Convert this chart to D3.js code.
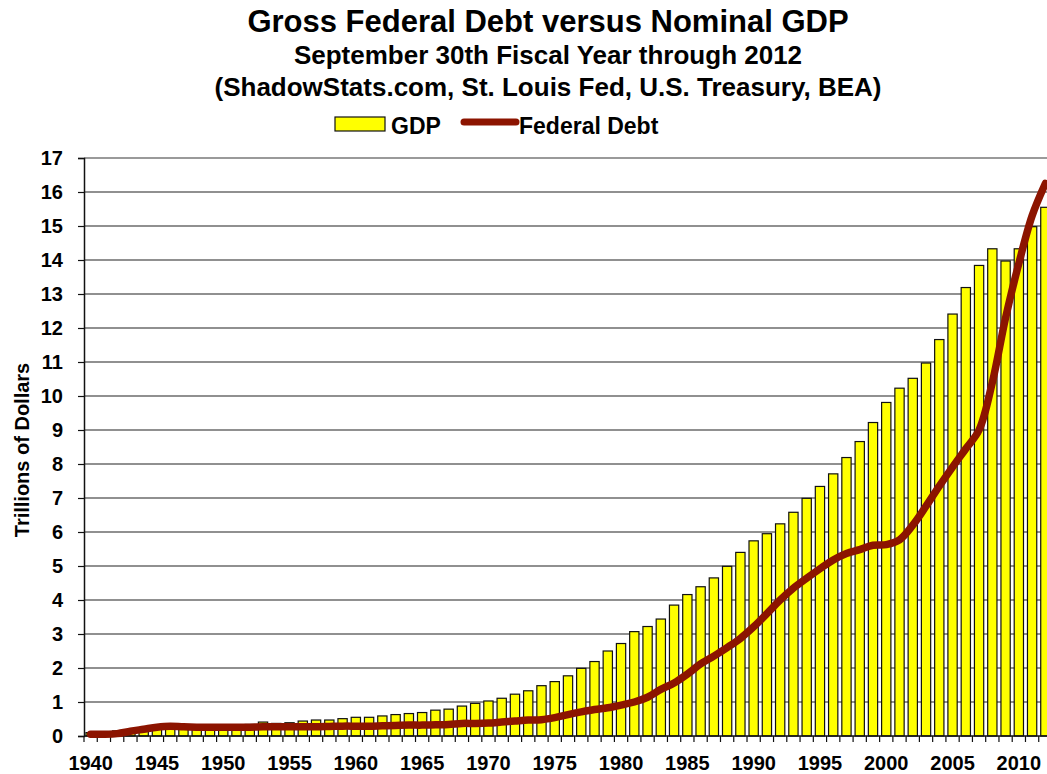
<!DOCTYPE html>
<html>
<head>
<meta charset="utf-8">
<script src="https://cdn.jsdelivr.net/npm/d3@7"></script>
<style>
  html, body { margin: 0; padding: 0; background: #fff; }
  svg { display: block; font-family: "Liberation Sans", Arial, Helvetica, sans-serif; font-weight: bold; }
</style>
</head>
<body>
<svg id="chart" width="1047" height="774"></svg>
<script>
const years = d3.range(1940, 2013);
const gdp = [
  0.10, 0.12, 0.15, 0.18, 0.20, 0.21, 0.21, 0.23, 0.25, 0.26,
  0.27, 0.31, 0.34, 0.41, 0.37, 0.39, 0.44, 0.47, 0.47, 0.51,
  0.55, 0.55, 0.59, 0.63, 0.66, 0.69, 0.76, 0.79, 0.88, 0.96,
  1.03, 1.11, 1.23, 1.33, 1.48, 1.60, 1.77, 1.99, 2.19, 2.50,
  2.72, 3.07, 3.22, 3.44, 3.85, 4.16, 4.39, 4.65, 4.99, 5.40,
  5.74, 5.95, 6.24, 6.58, 6.99, 7.34, 7.71, 8.19, 8.66, 9.22,
  9.81, 10.23, 10.52, 10.97, 11.66, 12.41, 13.19, 13.84, 14.33, 13.97,
  14.33, 14.98, 15.55
];
const debt = [
  0.05, 0.05, 0.07, 0.14, 0.20, 0.26, 0.29, 0.27, 0.26, 0.26,
  0.26, 0.26, 0.26, 0.27, 0.27, 0.27, 0.27, 0.27, 0.28, 0.29,
  0.29, 0.29, 0.30, 0.31, 0.32, 0.32, 0.33, 0.34, 0.37, 0.37,
  0.38, 0.41, 0.44, 0.47, 0.48, 0.54, 0.63, 0.71, 0.78, 0.83,
  0.91, 1.00, 1.14, 1.37, 1.56, 1.82, 2.12, 2.35, 2.60, 2.87,
  3.21, 3.60, 4.00, 4.35, 4.64, 4.92, 5.18, 5.37, 5.48, 5.61,
  5.63, 5.77, 6.20, 6.76, 7.35, 7.91, 8.45, 9.00, 10.40, 12.30,
  13.90, 15.30, 16.25
];
const yTicks = d3.range(0, 18);
const xLabelYears = d3.range(1940, 2011, 5);
const titleLines = [
  "Gross Federal Debt versus Nominal GDP",
  "September 30th Fiscal Year through 2012",
  "(ShadowStats.com, St. Louis Fed, U.S. Treasury, BEA)"
];
const seriesNames = ["GDP", "Federal Debt"];
const yTitle = "Trillions of Dollars";

const svg = d3.select("#chart");
const plotLeft = 84, plotRight = 1052, plotTop = 158, plotBottom = 736;

const x = d3.scaleBand().domain(years).range([plotLeft, plotRight]).paddingInner(0.3).paddingOuter(0.15);
const y = d3.scaleLinear().domain([0, 17]).range([plotBottom, plotTop]);

// gridlines
svg.append("g").selectAll("line").data(yTicks.filter(d => d > 0)).join("line")
  .attr("x1", plotLeft).attr("x2", plotRight)
  .attr("y1", d => y(d)).attr("y2", d => y(d))
  .attr("stroke", d => d === 17 ? "#9a9a9a" : "#222")
  .attr("stroke-width", d => d === 17 ? 2 : 1.2);

// bars
svg.append("g").selectAll("rect").data(years).join("rect")
  .attr("x", d => x(d))
  .attr("width", x.bandwidth())
  .attr("y", (d, i) => y(gdp[i]))
  .attr("height", (d, i) => y(0) - y(gdp[i]))
  .attr("fill", "#ffff00")
  .attr("stroke", "#111")
  .attr("stroke-width", 1.2);

// y axis
const yAxis = svg.append("g").attr("transform", `translate(${plotLeft},0)`)
  .call(d3.axisLeft(y).tickValues(yTicks).tickSize(6).tickPadding(15).tickFormat(d3.format("d")));
yAxis.select(".domain").attr("stroke", "#111").attr("stroke-width", 1.5);
yAxis.selectAll(".tick line").attr("stroke", "#111").attr("stroke-width", 1.2);
yAxis.selectAll(".tick text").attr("font-size", 20).attr("font-weight", "bold")
  .attr("font-family", "Liberation Sans, Arial, sans-serif").attr("fill", "#000");

// x axis baseline and ticks at band boundaries
const step = x.step();
const boundaries = years.map(d => x(d) + x.bandwidth() / 2 - step / 2).concat([x(2012) + x.bandwidth() / 2 + step / 2]);
svg.append("line").attr("x1", plotLeft).attr("x2", plotRight).attr("y1", plotBottom).attr("y2", plotBottom)
  .attr("stroke", "#111").attr("stroke-width", 1.5);
svg.append("g").selectAll("line").data(boundaries).join("line")
  .attr("x1", d => d).attr("x2", d => d)
  .attr("y1", plotBottom).attr("y2", plotBottom + 6)
  .attr("stroke", "#111").attr("stroke-width", 1.2);
svg.append("g").selectAll("text").data(xLabelYears).join("text")
  .attr("x", d => x(d) + x.bandwidth() / 2)
  .attr("y", 770)
  .attr("text-anchor", "middle")
  .attr("font-size", 20)
  .text(d => d);

// debt line
const line = d3.line()
  .x((d, i) => x(years[i]) + x.bandwidth() / 2)
  .y(d => y(d))
  .curve(d3.curveCatmullRom.alpha(0.5));
svg.append("path").datum(debt)
  .attr("d", line)
  .attr("fill", "none")
  .attr("stroke", "#8c1400")
  .attr("stroke-width", 7.5)
  .attr("stroke-linejoin", "round")
  .attr("stroke-linecap", "round");

// y title
svg.append("text")
  .attr("transform", "translate(29,450) rotate(-90)")
  .attr("text-anchor", "middle")
  .attr("font-size", 20)
  .text(yTitle);

// titles
svg.append("text").attr("x", 548).attr("y", 32).attr("text-anchor", "middle").attr("font-size", 31).text(titleLines[0]);
svg.append("text").attr("x", 548).attr("y", 64).attr("text-anchor", "middle").attr("font-size", 26).text(titleLines[1]);
svg.append("text").attr("x", 548).attr("y", 96).attr("text-anchor", "middle").attr("font-size", 26).text(titleLines[2]);

// legend
const lg = svg.append("g");
lg.append("rect").attr("x", 335).attr("y", 117).attr("width", 50).attr("height", 14)
  .attr("fill", "#ffff00").attr("stroke", "#111").attr("stroke-width", 1.2);
lg.append("text").attr("x", 391).attr("y", 134).attr("font-size", 23).text(seriesNames[0]);
lg.append("line").attr("x1", 464).attr("x2", 516).attr("y1", 122).attr("y2", 122)
  .attr("stroke", "#8c1400").attr("stroke-width", 7).attr("stroke-linecap", "round");
lg.append("text").attr("x", 519).attr("y", 134).attr("font-size", 23).text(seriesNames[1]);
</script>
</body>
</html>
